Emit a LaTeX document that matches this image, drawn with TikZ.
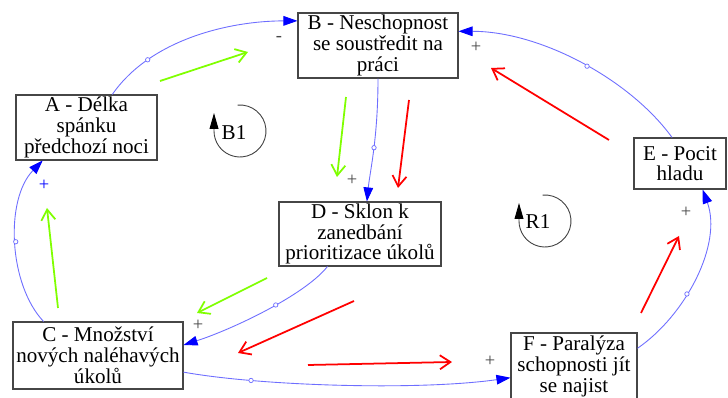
\documentclass[tikz,border=0pt]{standalone}
\usepackage{fontspec}
\setmainfont{Liberation Serif}
\usetikzlibrary{arrows.meta}

\definecolor{linkblue}{RGB}{110,110,255}
\definecolor{headblue}{RGB}{0,0,255}
\definecolor{loopgreen}{RGB}{128,255,0}
\definecolor{boxgray}{RGB}{70,70,70}

\begin{document}
\begin{tikzpicture}[x = 0.02 cm, y = 0.02 cm,
	var/.style = {draw = boxgray, line width = 0.6 pt, align = center, inner sep = 0 pt, font = \fontsize{12}{11.8}\selectfont},
	link/.style = {linkblue, line width = 0.5 pt, -{Triangle[length=8pt, width=5.5pt, color=headblue, fill=headblue]}},
	valve/.style = {circle, draw = linkblue, fill = white, inner sep = 0 pt, minimum size = 2.5 pt, line width = 0.4 pt},
	sign/.style = {text = boxgray, font = \fontsize{10.5}{10.5}\selectfont, inner sep = 0 pt},
	greenarrow/.style = {loopgreen, line width = 1 pt, -{Straight Barb[length=6pt, width=8pt]}},
	redarrow/.style = {red, line width = 1 pt, -{Straight Barb[length=6pt, width=8pt]}},
	loopname/.style = {font = \fontsize{12}{12}\selectfont, inner sep = 0 pt},
	loopline/.style = {black!75, line width = 0.5 pt, -{Triangle[length=9pt, width=5pt, color=black, fill=black]}}]
	 \useasboundingbox[fill = white] (0, 0) rectangle (728, -398);
	 
	 % variables
	 \node[var, minimum width = 2.82 cm, minimum height = 1.30 cm] (A) at (86.5, -127.5) {A - Délka\\ spánku\\ předchozí noci};
	 \node[var, minimum width = 3.20 cm, minimum height = 1.30 cm] (B) at (378, -45.5) {B - Neschopnost\\ se soustředit na\\ práci};
	 \node[var, minimum width = 3.40 cm, minimum height = 1.34 cm] (C) at (98, -355.5) {C - Množství\\ nových naléhavých\\ úkolů};
	 \node[var, minimum width = 3.24 cm, minimum height = 1.28 cm] (D) at (360, -234) {D - Sklon k\\ zanedbání\\ prioritizace úkolů};
	 \node[var, minimum width = 1.84 cm, minimum height = 1.02 cm] (E) at (680, -163.5) {E - Pocit\\ hladu};
	 \node[var, minimum width = 2.52 cm, minimum height = 1.34 cm] (F) at (574, -366.5) {F - Paralýza\\ schopnosti jít\\ se najist};
	 
	 % causal links
	 \draw[link] (A.52) .. controls +(38, 55) and +(-68, 0) .. (B.163) node[pos = 0.25, valve] (vAB) {};
	 \draw[link] (E.107) .. controls +(-42, 58) and +(82, 0) .. (B.10) node[pos = 0.47, valve] (vEB) {};
	 \draw[link] (B.south) .. controls +(0, -60) and +(3, 30) .. (D.78) node[pos = 0.47, valve] (vBD) {};
	 \draw[link] (D.-135) .. controls +(-23, -29) and +(47, 15) .. (C.7) node[pos = 0.43, valve] (vDC) {};
	 \draw[link] (C.148) .. controls +(-35, 37) and +(-38, -39) .. (A.217) node[pos = 0.5, valve] (vCA) {};
	 \draw[link] (C.-11) .. controls +(77, -14) and +(-91, -13) .. (F.190) node[pos = 0.24, valve] (vCF) {};
	 \draw[link] (F.16) .. controls +(48, 33) and +(20, -55) .. (E.-49) node[pos = 0.4, valve] (vFE) {};
	 
	 % polarities
	 \node[sign] (sAB) at (279, -39) {-};
	 \node[sign] (sEB) at (476, -47) {+};
	 \node[sign] (sBD) at (352, -180) {+};
	 \node[sign] (sDC) at (198, -325) {+};
	 \node[sign, text = headblue] (sCA) at (44, -185) {+};
	 \node[sign] (sCF) at (490, -361) {+};
	 \node[sign] (sFE) at (686, -212) {+};
	 
	 % loop direction
	 \foreach \a/\b in {{160, -81}/{248, -52}, {346, -97}/{337, -177}, {58, -308}/{47, -208}, {267, -278}/{197, -313}}
	 \draw[greenarrow] (\a) -- (\b);
	 \foreach \a/\b in {{409, -100}/{398, -188}, {609, -140}/{491, -68}, {354, -301}/{238, -353}, {308, -365}/{452, -362}, {641, -313}/{679, -236}}
	 \draw[redarrow] (\a) -- (\b);
	 
	 % loop markers
	 \node[loopname] (B1) at (234, -133) {B1};
	 \draw[loopline] (240, -131) ++(95:0.52 cm) arc[start angle = 95, end angle = -180, radius = 0.52 cm] -- ++(0, 18);
	 \node[loopname] (R1) at (538, -222) {R1};
	 \draw[loopline] (545, -221) ++(95:0.52 cm) arc[start angle = 95, end angle = -180, radius = 0.52 cm] -- ++(0, 18);
\end{tikzpicture}
\end{document}
